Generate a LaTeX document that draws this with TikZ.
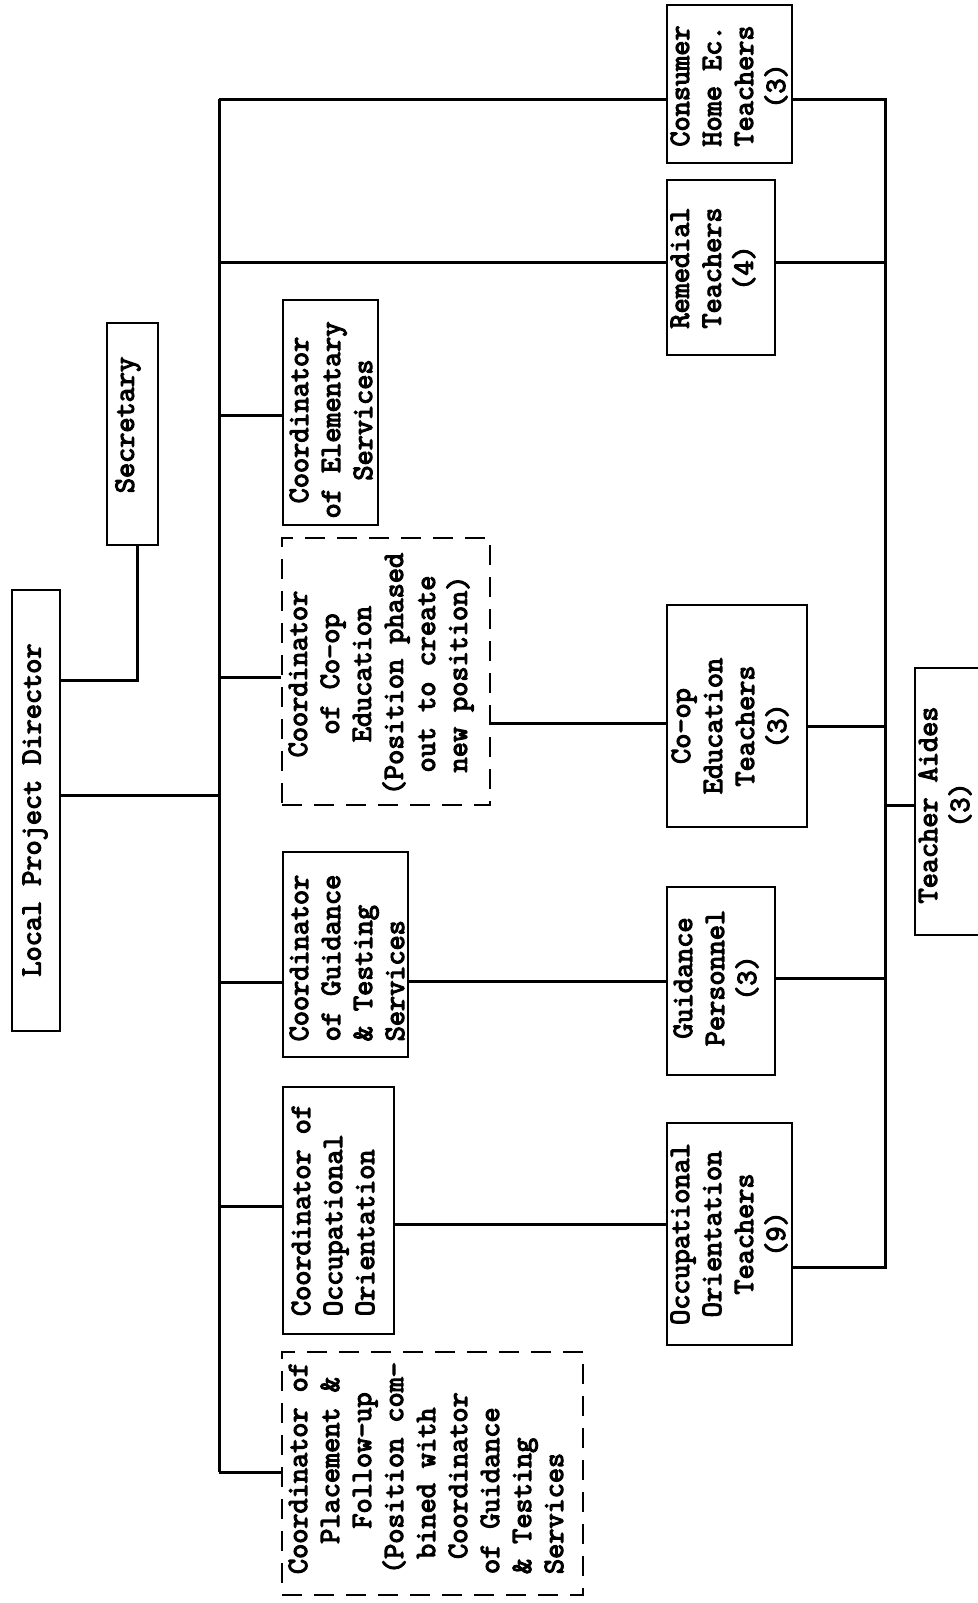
\documentclass[tikz,border=0pt]{standalone}
\usepackage{fontspec}
\newfontfamily\typewriter{Latin Modern Mono}[FakeBold=4]
\usetikzlibrary{fit}

\begin{document}
\begin{tikzpicture}[x=0.5pt,y=-0.5pt,
  box/.style={draw, line width=1.3pt, inner sep=0pt},
  dbox/.style={box, dash pattern=on 10pt off 6pt},
  lbl/.style={rotate=90, align=center, inner sep=0pt,
    font={\fontsize{14.7}{16}\selectfont\typewriter}},
  lbll/.style={lbl, align=left},
  link/.style={line width=1.5pt},
]
% page
\fill[white] (0,0) rectangle (978,1603);
\useasboundingbox (0,0) rectangle (978,1603);
\clip (0,0) rectangle (978,1603);

% ---- boxes (corners in page units) ----
\node[box, fit={(12,590) (60,1031)}] (lpd) {};
\node[box, fit={(107,323) (158,545)}] (sec) {};

\node[box,  fit={(283,300) (378,525)}]   (elem) {};
\node[dbox, fit={(282,538) (490,805)}]   (coop) {};
\node[box,  fit={(283,852) (408,1057)}]  (guid) {};
\node[box,  fit={(283,1087) (394,1334)}] (occ) {};
\node[dbox, fit={(282,1352) (583,1595)}] (place) {};

\node[box, fit={(667,5) (792,163)}]     (cons) {};
\node[box, fit={(667,180) (775,355)}]   (rem) {};
\node[box, fit={(667,605) (807,827)}]   (coopT) {};
\node[box, fit={(667,887) (775,1075)}]  (guidT) {};
\node[box, fit={(667,1123) (792,1345)}] (occT) {};
\node[box, fit={(915,668) (1010,935)}]  (aides) {};

% ---- labels ----
\node[lbl] at (35,810) {Local Project Director};
\node[lbl] at (128,425) {Secretary};
\node[lbl] at (331,420) {Coordinator\\of Elementary\\Services};
\node[lbl] at (381,674) {Coordinator\\of Co-op\\Education\\(Position phased\\out to create\\new position)};
\node[lbll] at (347,958) {Coordinator\\of Guidance\\\& Testing\\Services};
\node[lbll] at (333,1210) {Coordinator of\\Occupational\\Orientation};
\node[lbll] at (426,1468) {Coordinator of\\\hphantom{xx}Placement \&\\\hphantom{xxx}Follow-up\\(Position com-\\\hphantom{x}bined with\\\hphantom{x}Coordinator\\of Guidance\\\& Testing\\Services};

\node[lbl] at (729,86)   {Consumer\\Home Ec.\\Teachers\\(3)};
\node[lbl] at (713,268)  {Remedial\\Teachers\\(4)};
\node[lbl] at (730,726)  {Co-op\\Education\\Teachers\\(3)};
\node[lbl] at (716,978)  {Guidance\\Personnel\\(3)};
\node[lbl] at (729,1234) {Occupational\\Orientation\\Teachers\\(9)};
\node[lbl] at (945,805)  {Teacher Aides\\(3)};

% ---- main bus ----
\coordinate (busTop) at (219,99);
\coordinate (busBot) at (219,1472);
\draw[link] (busTop) -- (busBot);

\coordinate (bLpd) at (219,795);
\draw[link] (bLpd -| lpd.east) -- (bLpd);
\coordinate (sj) at (137,680);
\draw[link] (sj -| lpd.east) -- (sj) -- (sj |- sec.south);

\coordinate (bRem) at (219,262);
\coordinate (bElem) at (219,415);
\coordinate (bCoop) at (219,677);
\coordinate (bGuid) at (219,982);
\coordinate (bOcc) at (219,1206);
\draw[link] (busTop) -- (busTop -| cons.west);
\draw[link] (bRem) -- (bRem -| rem.west);
\draw[link] (bElem) -- (bElem -| elem.west);
\draw[link] (bCoop) -- (bCoop -| coop.west);
\draw[link] (bGuid) -- (bGuid -| guid.west);
\draw[link] (bOcc) -- (bOcc -| occ.west);
\draw[link] (busBot) -- (busBot -| place.west);

% ---- coordinators to teacher groups ----
\coordinate (yCoop) at (0,723);
\coordinate (yGuid) at (0,981);
\coordinate (yOcc) at (0,1224);
\draw[link] (coop.east |- yCoop) -- (coopT.west |- yCoop);
\draw[link] (guid.east |- yGuid) -- (guidT.west |- yGuid);
\draw[link] (occ.east |- yOcc) -- (occT.west |- yOcc);

% ---- right-hand bus to teacher aides ----
\coordinate (rTop) at (885,99);
\coordinate (rBot) at (885,1267);
\draw[link] (cons.east |- rTop) -- (rTop) -- (rBot) -- (rBot -| occT.east);
\draw[link] (rem.east |- bRem) -- (rTop |- bRem);
\coordinate (yCoopR) at (0,726);
\coordinate (yGuidR) at (0,978);
\coordinate (yAides) at (0,805);
\draw[link] (coopT.east |- yCoopR) -- (rTop |- yCoopR);
\draw[link] (guidT.east |- yGuidR) -- (rTop |- yGuidR);
\draw[link] (rTop |- yAides) -- (aides.west |- yAides);
\end{tikzpicture}
\end{document}
